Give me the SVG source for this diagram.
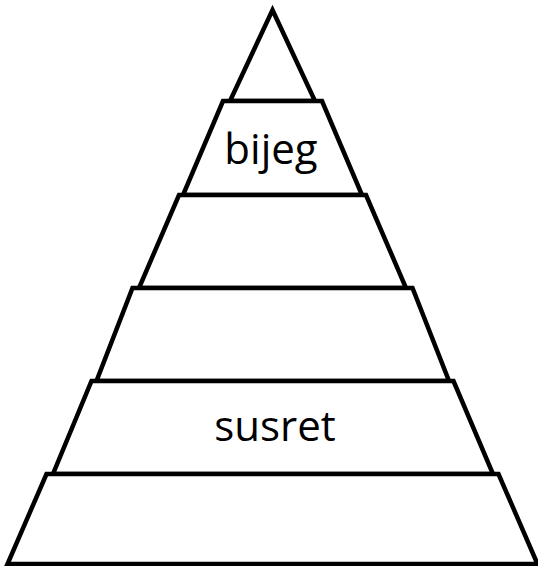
<svg xmlns="http://www.w3.org/2000/svg" width="538" height="566" viewBox="0 0 538 566">
<style>
.layer{fill:#fff;stroke:#000;stroke-width:4.5;stroke-linejoin:miter}
.lbl{font-family:"Open Sans","Liberation Sans",sans-serif;font-size:42px;fill:#000;text-anchor:middle}
</style>
<rect width="538" height="566" fill="#fff"/>
<g id="layer1"><polygon class="layer" points="272.5,10 315,101 230,101"/></g>
<g id="layer2"><polygon class="layer" points="223,101 322,101 362,195 183,195"/><text class="lbl" x="271" y="164">bijeg</text></g>
<g id="layer3"><polygon class="layer" points="179,195 366,195 406,288 139,288"/></g>
<g id="layer4"><polygon class="layer" points="132.5,288 412.5,288 449,381 96.5,381"/></g>
<g id="layer5"><polygon class="layer" points="91.5,381 453.5,381 493,474 53,474"/><text class="lbl" x="275" y="441">susret</text></g>
<g id="layer6"><polygon class="layer" points="46.5,474 498.5,474 537.5,564 7.5,564"/></g>
<g id="connectors"></g>
</svg>
